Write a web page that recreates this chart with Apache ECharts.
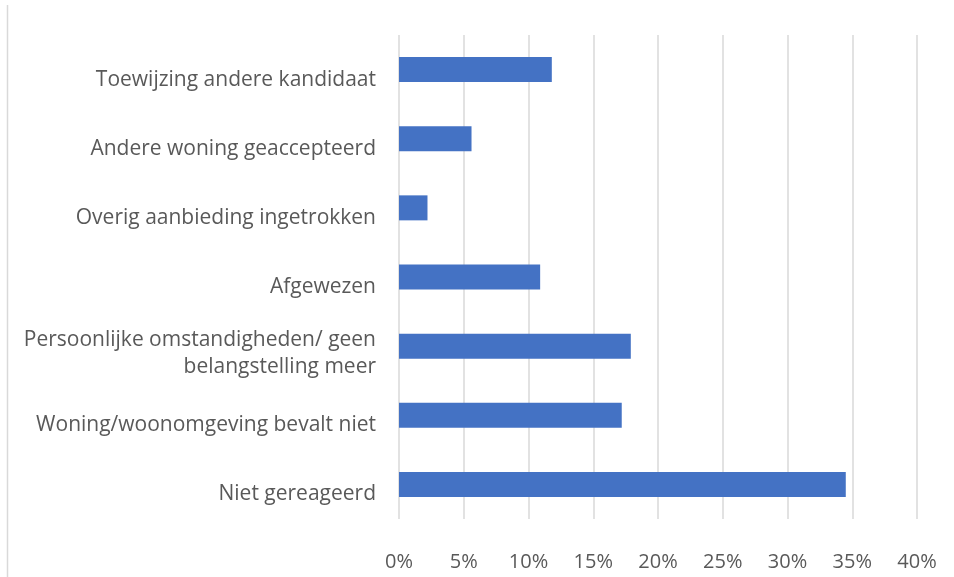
<!DOCTYPE html>
<html>
<head>
<meta charset="utf-8">
<script src="https://cdn.jsdelivr.net/npm/echarts@6/dist/echarts.min.js"></script>
<style>
  html, body { margin: 0; padding: 0; background: #fff; }
  #chart { width: 954px; height: 577px; }
</style>
</head>
<body>
<div id="chart"></div>
<script>
// categories from bottom to top (as ECharts draws a category y axis)
var categories = [
  'Niet gereageerd',
  'Woning/woonomgeving bevalt niet',
  'Persoonlijke omstandigheden/ geen\nbelangstelling meer',
  'Afgewezen',
  'Overig aanbieding ingetrokken',
  'Andere woning geaccepteerd',
  'Toewijzing andere kandidaat'
];
// percentages
var values = [34.5, 17.2, 17.9, 10.9, 2.2, 5.6, 11.8];

var chartDom = document.getElementById('chart');
var myChart = echarts.init(chartDom);
var option;

// labels sit a bit below the bar centre, like in Excel
function labelFmt(v) {
  var lines = v.split('\n');
  var sp = lines.length > 1 ? '{sp2|\u00a0}' : '{sp1|\u00a0}';
  return sp + '\n' + lines.map(function (l) { return '{t|' + l + '}'; }).join('\n');
}

option = {
  backgroundColor: '#ffffff',
  animation: false,
  textStyle: { fontFamily: 'Open Sans' },
  graphic: [
    {
      type: 'line',
      shape: { x1: 7.5, y1: 5, x2: 7.5, y2: 577 },
      style: { stroke: '#d9d9d9', lineWidth: 1.5 }
    }
  ],
  grid: {
    left: 399,
    right: 37,
    top: 35,
    bottom: 58
  },
  xAxis: {
    type: 'value',
    min: 0,
    max: 40,
    interval: 5,
    axisLine: { show: false },
    axisTick: { show: false },
    splitLine: { lineStyle: { color: '#d9d9d9', width: 1.5 } },
    axisLabel: {
      color: '#595959',
      fontSize: 20,
      margin: 33,
      formatter: '{value}%'
    }
  },
  yAxis: {
    type: 'category',
    data: categories,
    axisLine: { show: false },
    axisTick: { show: false },
    axisLabel: {
      margin: 23,
      align: 'right',
      formatter: labelFmt,
      rich: {
        sp1: { fontSize: 1, lineHeight: 20 },
        sp2: { fontSize: 1, lineHeight: 15 },
        t: { color: '#595959', fontSize: 21, lineHeight: 27, fontFamily: 'Open Sans' }
      }
    }
  },
  series: [
    {
      type: 'bar',
      data: values,
      barWidth: 25,
      itemStyle: { color: '#4472c4' }
    }
  ]
};

option && myChart.setOption(option);
</script>
</body>
</html>
